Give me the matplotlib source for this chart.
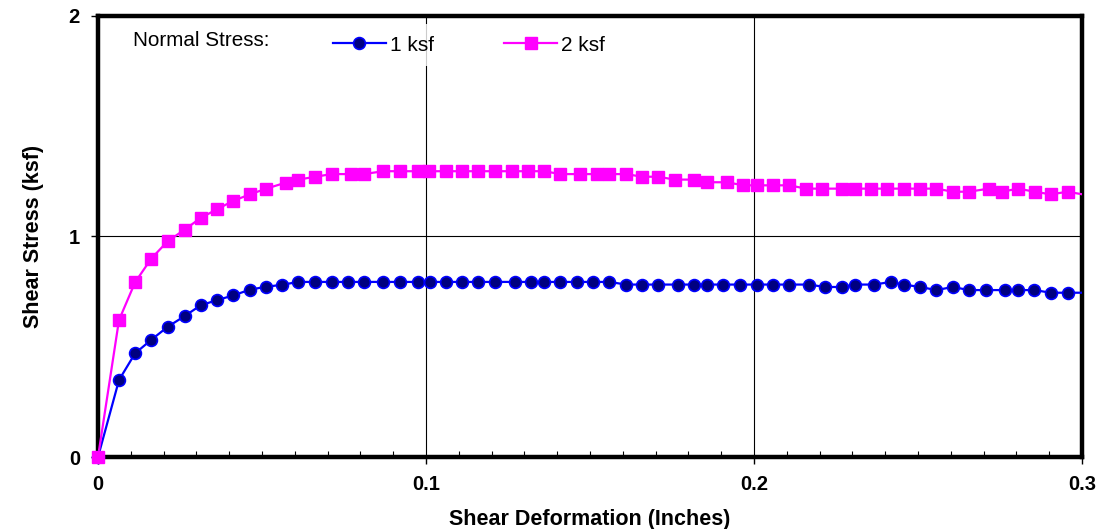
import numpy as np
import matplotlib
matplotlib.use("Agg")
import matplotlib.pyplot as plt
from matplotlib.ticker import MultipleLocator

plt.rcParams['font.family'] = ['Liberation Sans', 'DejaVu Sans']

# shear deformation (in) and shear stress (ksf)
x_1ksf = [0, 0.0064, 0.0113, 0.0162, 0.0212, 0.0264, 0.0313, 0.0362, 0.0413, 0.0463,
          0.0513, 0.0561, 0.0611, 0.0663, 0.0712, 0.0761, 0.0810, 0.0870, 0.0920, 0.0976,
          0.1011, 0.1060, 0.1110, 0.1160, 0.1211, 0.1271, 0.1320, 0.1360, 0.1410, 0.1459,
          0.1510, 0.1559, 0.1610, 0.1659, 0.1708, 0.1768, 0.1818, 0.1858, 0.1907, 0.1958,
          0.2008, 0.2057, 0.2107, 0.2167, 0.2217, 0.2267, 0.2307, 0.2366, 0.2418, 0.2456,
          0.2507, 0.2556, 0.2606, 0.2656, 0.2706, 0.2766, 0.2805, 0.2855, 0.2905, 0.2956,
          0.3006]
y_1ksf = [0, 0.349, 0.470, 0.531, 0.590, 0.639, 0.688, 0.711, 0.733, 0.759,
          0.772, 0.781, 0.794, 0.794, 0.794, 0.794, 0.794, 0.794, 0.794, 0.794,
          0.794, 0.794, 0.794, 0.794, 0.794, 0.794, 0.794, 0.794, 0.794, 0.794,
          0.794, 0.794, 0.782, 0.782, 0.782, 0.782, 0.782, 0.782, 0.782, 0.782,
          0.782, 0.782, 0.782, 0.782, 0.771, 0.771, 0.782, 0.782, 0.794, 0.782,
          0.771, 0.757, 0.771, 0.757, 0.757, 0.757, 0.757, 0.757, 0.745, 0.745,
          0.745]

x_2ksf = [0, 0.0064, 0.0113, 0.0162, 0.0212, 0.0264, 0.0313, 0.0362, 0.0413, 0.0463,
          0.0513, 0.0572, 0.0611, 0.0663, 0.0712, 0.0772, 0.0810, 0.0870, 0.0920, 0.0976,
          0.1010, 0.1060, 0.1110, 0.1160, 0.1211, 0.1261, 0.1311, 0.1360, 0.1410, 0.1471,
          0.1521, 0.1559, 0.1610, 0.1659, 0.1708, 0.1758, 0.1818, 0.1858, 0.1917, 0.1968,
          0.2008, 0.2057, 0.2107, 0.2159, 0.2207, 0.2268, 0.2307, 0.2357, 0.2405, 0.2456,
          0.2506, 0.2556, 0.2606, 0.2655, 0.2716, 0.2756, 0.2805, 0.2856, 0.2905, 0.2956,
          0.3006]
y_2ksf = [0, 0.621, 0.792, 0.899, 0.978, 1.031, 1.084, 1.123, 1.162, 1.191,
          1.217, 1.244, 1.258, 1.271, 1.283, 1.283, 1.283, 1.296, 1.296, 1.296,
          1.296, 1.296, 1.296, 1.296, 1.296, 1.296, 1.296, 1.296, 1.283, 1.283,
          1.283, 1.283, 1.283, 1.271, 1.271, 1.258, 1.258, 1.246, 1.246, 1.232,
          1.232, 1.232, 1.232, 1.217, 1.217, 1.217, 1.217, 1.217, 1.217, 1.217,
          1.217, 1.217, 1.203, 1.203, 1.217, 1.203, 1.217, 1.203, 1.191, 1.203,
          1.190]

x_ticks = [0, 0.1, 0.2, 0.3]
x_ticklabels = ['0', '0.1', '0.2', '0.3']
y_ticks = [0, 1, 2]

fig = plt.figure(figsize=(11, 5.29), dpi=100)
ax = fig.add_axes([0.0891, 0.1361, 0.8945, 0.8337])

x1, y1 = np.array(x_1ksf), np.array(y_1ksf)
x2, y2 = np.array(x_2ksf), np.array(y_2ksf)

# lines (clipped at the frame)
ax.plot(x1, y1, color='#0000FF', lw=1.6, zorder=3)
ax.plot(x2, y2, color='#FF00FF', lw=1.6, zorder=3)
# markers on top, not clipped so the origin marker sits over the spine
m1 = x1 <= 0.3
m2 = x2 <= 0.3
ax.plot(x1[m1], y1[m1], ls='none', marker='o', ms=8.5, mfc='#000080',
        mec='#0000FF', mew=1.2, zorder=4, clip_on=False)
ax.plot(x2[m2], y2[m2], ls='none', marker='s', ms=8.4, mfc='#FF00FF',
        mec='#FF00FF', zorder=5, clip_on=False)

# legend handles
h1, = ax.plot([], [], color='#0000FF', lw=1.6, marker='o', ms=8.5,
              mfc='#000080', mec='#0000FF', mew=1.2)
h2, = ax.plot([], [], color='#FF00FF', lw=1.6, marker='s', ms=8.4,
              mfc='#FF00FF', mec='#FF00FF')
leg = ax.legend([h1, h2], ['1 ksf', '2 ksf'], ncol=2, loc='center left',
                bbox_to_anchor=(0.2269, 0.934), borderaxespad=0, borderpad=0.55,
                fontsize=15, handlelength=2.55, handletextpad=0.19,
                columnspacing=3.37, frameon=True, fancybox=False)
leg.get_frame().set_facecolor('white')
leg.get_frame().set_edgecolor('none')
leg.set_zorder(6)
ax.text(0.0356, 0.945, 'Normal Stress:', transform=ax.transAxes, fontsize=14.9,
        va='center', ha='left', zorder=7)

ax.set_xlim(0, 0.3)
ax.set_ylim(0, 2)
ax.set_xticks(x_ticks)
ax.set_xticklabels(x_ticklabels)
ax.set_yticks(y_ticks)
ax.xaxis.set_minor_locator(MultipleLocator(0.01))
ax.tick_params(axis='both', which='major', direction='out', length=5, width=1,
               labelsize=14.5, pad=8)
ax.tick_params(axis='x', which='minor', direction='in', length=4, width=0.8)
for lab in ax.get_xticklabels() + ax.get_yticklabels():
    lab.set_fontweight('bold')

ax.grid(True, which='major', color='black', lw=0.8, zorder=1)
ax.set_axisbelow(True)
for s in ax.spines.values():
    s.set_linewidth(3.2)

ax.set_xlabel('Shear Deformation (Inches)', fontsize=15.5, fontweight='bold', labelpad=11)
ax.set_ylabel('Shear Stress (ksf)', fontsize=15.5, fontweight='bold', labelpad=18)

fig.savefig('out.png', dpi=100)
